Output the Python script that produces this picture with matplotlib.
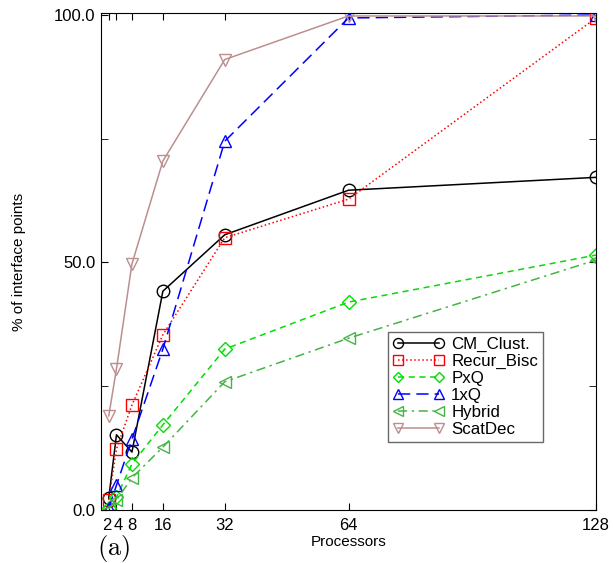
import numpy as np
import matplotlib.pyplot as plt
from matplotlib.ticker import FixedLocator
from matplotlib.transforms import ScaledTranslation

plt.rcParams['font.family'] = ['Liberation Sans', 'DejaVu Sans']
plt.rcParams['mathtext.fontset'] = 'cm'

procs = [2, 4, 8, 16, 32, 64, 128]
cm_clust = [2.4, 15.2, 11.7, 44.2, 55.6, 64.6, 67.2]
recur_bisc = [2.0, 12.3, 21.2, 35.4, 55.0, 62.8, 99.4]
pxq = [0.4, 2.6, 9.3, 17.2, 32.5, 42.0, 51.5]
oxq = [0.4, 5.0, 14.3, 32.5, 74.5, 99.4, 100.0]
hybrid = [0.2, 2.0, 6.5, 12.7, 25.9, 34.7, 50.5]
scatdec = [19.0, 28.5, 49.7, 70.5, 91.0, 99.8, 99.8]

series = [
    ("CM_Clust.", cm_clust, "black", "o", "-"),
    ("Recur_Bisc", recur_bisc, "red", "s", ":"),
    ("PxQ", pxq, "#00e000", "D", (0, (4, 3))),
    ("1xQ", oxq, "blue", "^", (0, (8, 4))),
    ("Hybrid", hybrid, "#44b444", "<", (0, (6, 3, 1.5, 3))),
    ("ScatDec", scatdec, "#bc8f8f", "v", "-"),
]

fig = plt.figure(figsize=(6.13, 5.63), dpi=100)
ax = fig.add_axes([101 / 613, 53 / 563, 495 / 613, 497 / 563])

for name, vals, col, mk, ls in series:
    ms = 7 if mk == "D" else 9
    ax.plot(procs, vals, color=col, linestyle=ls, linewidth=1.1, marker=mk,
            markersize=ms, markerfacecolor="none", markeredgecolor=col,
            markeredgewidth=1.0, label=name)

ax.set_xlim(0, 128)
ax.set_ylim(0, 100.4)
ax.set_xticks(procs)
ax.set_xticklabels(["2", "4", "8", "16", "32", "64", "128"], fontsize=12)
ax.set_yticks([0, 50, 100])
ax.set_yticklabels(["0.0", "50.0", "100.0"], fontsize=12)
ax.yaxis.set_minor_locator(FixedLocator([25, 75]))
ax.tick_params(direction="in", top=True, right=True, which="both", length=5, pad=4)
ax.tick_params(axis="x", pad=6)

# "2" and "4" sit almost on top of each other: nudge them apart a hair
xl = ax.get_xticklabels()
xl[0].set_transform(xl[0].get_transform() + ScaledTranslation(-1.2 / 72, 0, fig.dpi_scale_trans))
xl[1].set_transform(xl[1].get_transform() + ScaledTranslation(1.2 / 72, 0, fig.dpi_scale_trans))

ax.set_xlabel("Processors", fontsize=11, labelpad=1)
ax.set_ylabel("% of interface points", fontsize=11, labelpad=20)

leg = ax.legend(loc="upper left", bbox_to_anchor=(287 / 495, 178 / 497),
                fontsize=12.2, frameon=True, fancybox=False, edgecolor="#444444",
                borderpad=0.28, labelspacing=0.12, handlelength=3.05,
                handletextpad=0.4, borderaxespad=0, numpoints=2, markerscale=0.8)
leg.get_frame().set_linewidth(1.0)

fig.text(114 / 613, 1 - 548 / 563, r"$\mathrm{(a)}$", fontsize=19,
         ha="center", va="center")

fig.savefig("out.png", dpi=100)
